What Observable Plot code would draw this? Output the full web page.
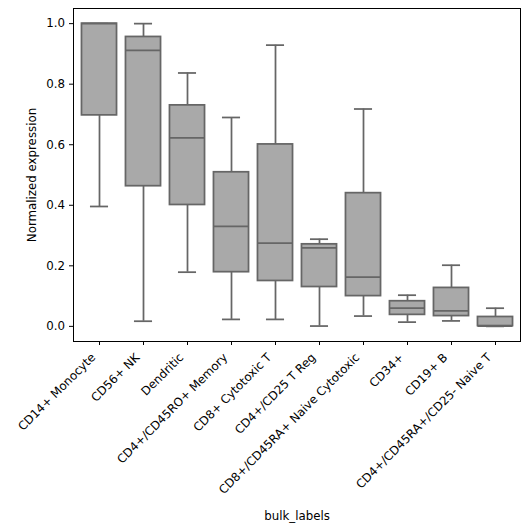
<!DOCTYPE html>
<html>
<head>
<meta charset="utf-8">
<script src="https://cdn.jsdelivr.net/npm/d3@7"></script>
<script src="https://cdn.jsdelivr.net/npm/@observablehq/plot@0.6"></script>
<style>
  html, body { margin: 0; padding: 0; background: #fff; }
</style>
</head>
<body>
<div id="chart"></div>
<script>
const categories = ["CD14+ Monocyte", "CD56+ NK", "Dendritic", "CD4+/CD45RO+ Memory", "CD8+ Cytotoxic T", "CD4+/CD25 T Reg", "CD8+/CD45RA+ Naive Cytotoxic", "CD34+", "CD19+ B", "CD4+/CD45RA+/CD25- Naive T"];
const whiskerLow  = [0.396, 0.017, 0.179, 0.023, 0.023, 0.001, 0.034, 0.014, 0.018, 0.000];
const q1          = [0.697, 0.463, 0.401, 0.179, 0.150, 0.130, 0.100, 0.038, 0.034, 0.001];
const median      = [1.000, 0.912, 0.623, 0.330, 0.275, 0.259, 0.163, 0.060, 0.051, 0.001];
const q3          = [1.000, 0.956, 0.730, 0.509, 0.601, 0.271, 0.440, 0.083, 0.127, 0.031];
const whiskerHigh = [1.000, 1.000, 0.837, 0.690, 0.929, 0.288, 0.718, 0.103, 0.202, 0.060];
const yTicks = [0, 0.2, 0.4, 0.6, 0.8, 1.0];
const xLabel = "bulk_labels";
const yLabel = "Normalized expression";

const rows = categories.map((c, i) => ({
  cat: c, lo: whiskerLow[i], q1: q1[i], med: median[i], q3: q3[i], hi: whiskerHigh[i]
}));

const W = 528, H = 531;
const mL = 73, mR = 8, mT = 8, mB = 190;
const band = (W - mL - mR) / categories.length;
const boxInset = band * 0.1;
const capInset = band * 0.29;
const edge = "#666666";
const sw = 1.75;
const fs = 11.8;
const font = "DejaVu Sans";

const chart = Plot.plot({
  width: W,
  height: H,
  marginLeft: mL,
  marginRight: mR,
  marginTop: mT,
  marginBottom: mB,
  style: { fontFamily: font, fontSize: fs + "px", color: "#000", background: "#fff" },
  x: { domain: categories, padding: 0, axis: null },
  y: { domain: [-0.05, 1.05], axis: null },
  marks: [
    Plot.ruleX(rows, { x: "cat", y1: "lo", y2: "hi", stroke: edge, strokeWidth: sw }),
    Plot.tickY(rows, { x: "cat", y: "lo", stroke: edge, strokeWidth: sw, insetLeft: capInset, insetRight: capInset }),
    Plot.tickY(rows, { x: "cat", y: "hi", stroke: edge, strokeWidth: sw, insetLeft: capInset, insetRight: capInset }),
    Plot.barY(rows, { x: "cat", y1: "q1", y2: "q3", fill: "#a9a9a9", stroke: edge, strokeWidth: sw, insetLeft: boxInset, insetRight: boxInset }),
    Plot.tickY(rows, { x: "cat", y: "med", stroke: edge, strokeWidth: sw, insetLeft: boxInset, insetRight: boxInset }),
    Plot.frame({ stroke: "#000", strokeWidth: 1 }),
    Plot.axisY(yTicks, { tickSize: 4, tickPadding: 4.5, tickFormat: d3.format(".1f"), label: null, stroke: "#000", fill: "#000", strokeWidth: 1, fontSize: fs, fontFamily: font }),
    Plot.axisX(categories, { tickSize: 4, tickFormat: () => "", label: null, stroke: "#000", strokeWidth: 1 }),
    Plot.text(categories, { x: d => d, frameAnchor: "bottom", text: d => d, rotate: -45, textAnchor: "end", lineAnchor: "middle", dx: -6, dy: 14, fill: "#000", fontSize: fs, fontFamily: font }),
    Plot.text([yLabel], { frameAnchor: "left", text: d => d, rotate: -90, textAnchor: "middle", lineAnchor: "middle", dx: -41, fill: "#000", fontSize: fs, fontFamily: font }),
    Plot.text([xLabel], { frameAnchor: "bottom", text: d => d, textAnchor: "middle", lineAnchor: "middle", dy: 175, fill: "#000", fontSize: fs, fontFamily: font })
  ]
});

document.getElementById("chart").appendChild(chart);
</script>
</body>
</html>
